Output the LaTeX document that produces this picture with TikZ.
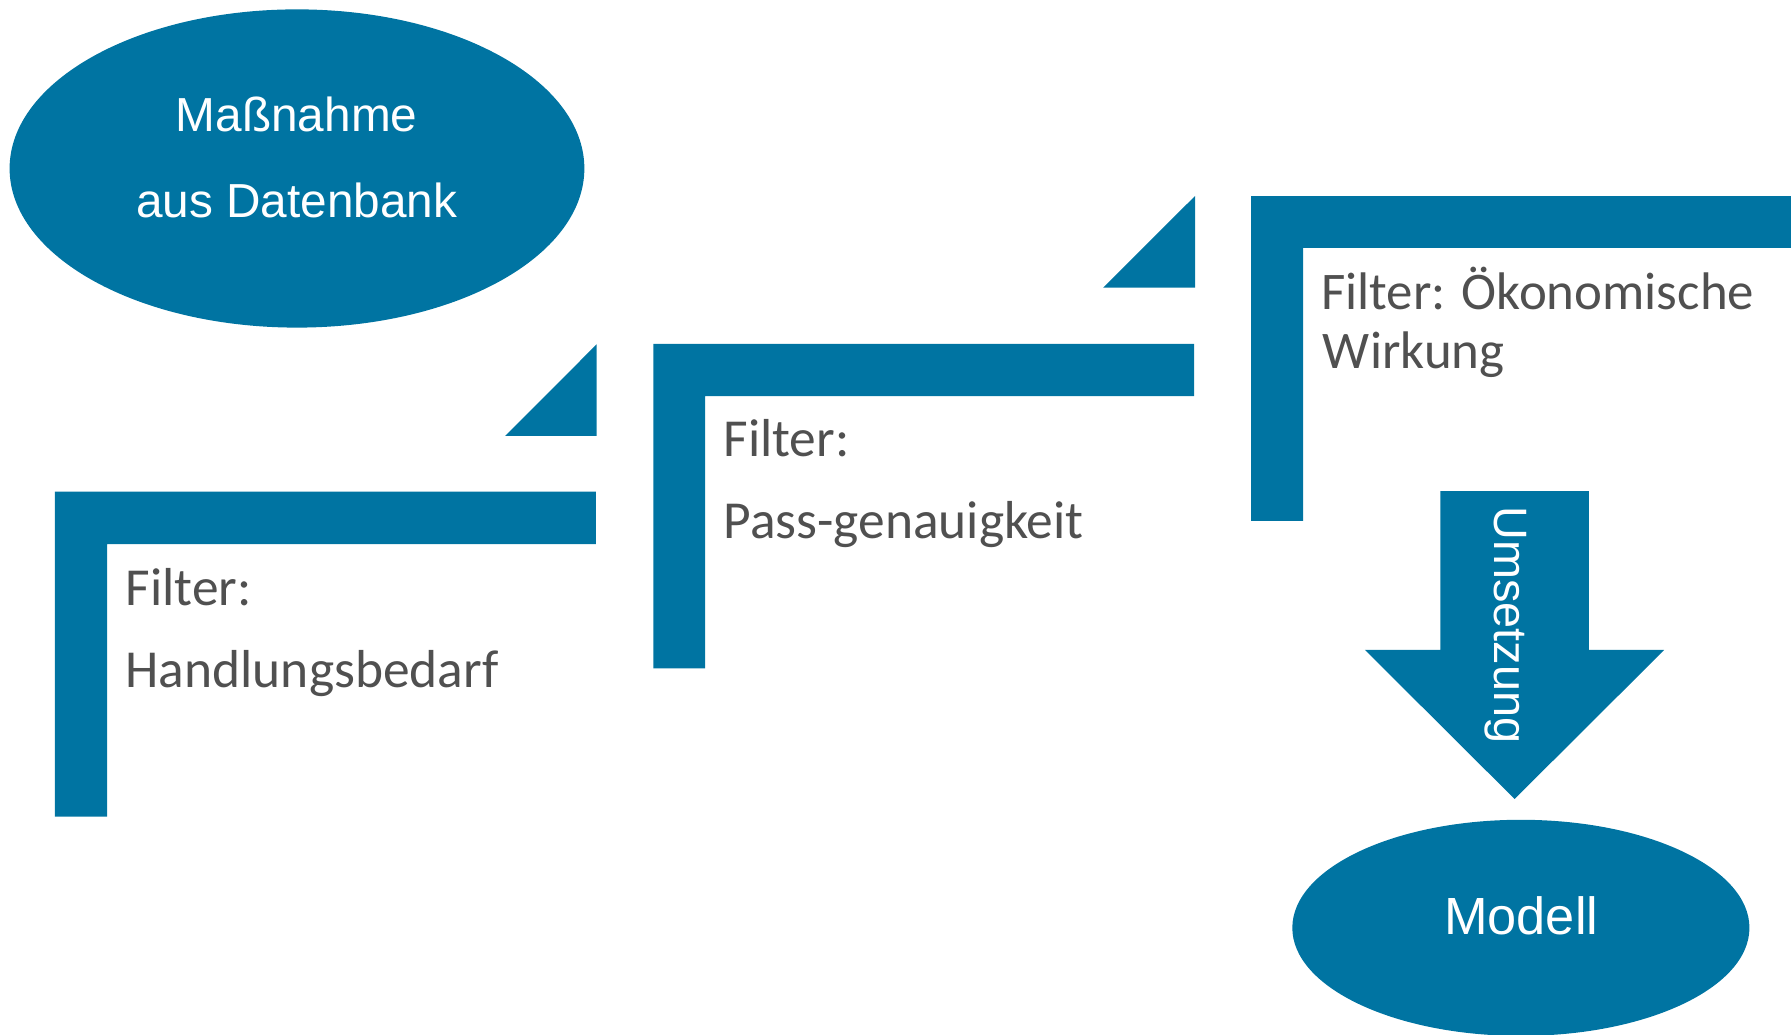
\documentclass[tikz,border=0pt]{standalone}
\usepackage{fontspec}
\setmainfont{Liberation Sans}
\newfontfamily\calib{Carlito}
\usetikzlibrary{shapes.geometric}
\definecolor{fblue}{RGB}{0,116,162}
\definecolor{fgray}{RGB}{80,80,80}
\begin{document}
\begin{tikzpicture}[x=1pt,y=-1pt,
  blob/.style={ellipse, fill=fblue, inner sep=0pt, outer sep=0pt},
  wtext/.style={text=white, inner sep=0pt, anchor=base},
  gtext/.style={text=fgray, inner sep=0pt, anchor=base west, font=\calib\fontsize{46.8}{56}\selectfont},
  shapefill/.style={fill=fblue}
]
\useasboundingbox (0,0) rectangle (1568,906);

% source ellipse
\node[blob, minimum width=503.2pt, minimum height=278.6pt] (src) at (260,147.5) {};
\node[wtext, font=\fontsize{41.8}{50}\selectfont] (src1) at (259.7,115.3) {Maßnahme};
\node[wtext, font=\fontsize{41.8}{50}\selectfont] (src2) at (259.7,190.3) {aus Datenbank};

% filter 1
\fill[shapefill] (48,430.5) -- (521.7,430.5) -- (521.7,476.3) -- (93.8,476.3) -- (93.8,715) -- (48,715) -- cycle;
\fill[shapefill] (522.3,301.5) -- (522.3,381.7) -- (442.2,381.7) -- cycle;
\node[gtext] (f1a) at (109.8,530.3) {Filter:};
\node[gtext] (f1b) at (109.8,601.7) {Handlungsbedarf};

% filter 2
\fill[shapefill] (572,301) -- (1045.4,301) -- (1045.4,346.7) -- (617.3,346.7) -- (617.3,585.1) -- (572,585.1) -- cycle;
\fill[shapefill] (1046.2,171.6) -- (1046.2,251.9) -- (965.7,251.9) -- cycle;
\node[gtext] (f2a) at (633.3,399.8) {Filter:};
\node[gtext] (f2b) at (633.3,471.3) {Pass-genauigkeit};

% filter 3
\fill[shapefill] (1095.4,171.6) -- (1568,171.6) -- (1568,217.1) -- (1140.8,217.1) -- (1140.8,455.9) -- (1095.4,455.9) -- cycle;
\node[gtext, font=\calib\fontsize{46.3}{56}\selectfont] (f3a) at (1156.5,270.8) {Filter: Ökonomische};
\node[gtext, font=\calib\fontsize{46.3}{56}\selectfont] (f3b) at (1158,322.5) {Wirkung};

% arrow
\fill[shapefill] (1261,430) -- (1391,430) -- (1391,569) -- (1457,569) -- (1326,699.5) -- (1195,569) -- (1261,569) -- cycle;
\node[wtext, rotate=-90, font=\fontsize{41}{50}\selectfont] (ums) at (1308.2,547) {Umsetzung};

% model ellipse
\node[blob, minimum width=400.2pt, minimum height=189.2pt] (mod) at (1331.5,812.3) {};
\node[wtext, font=\fontsize{45.8}{54}\selectfont] (modt) at (1331.8,818.5) {Modell};
\end{tikzpicture}
\end{document}
